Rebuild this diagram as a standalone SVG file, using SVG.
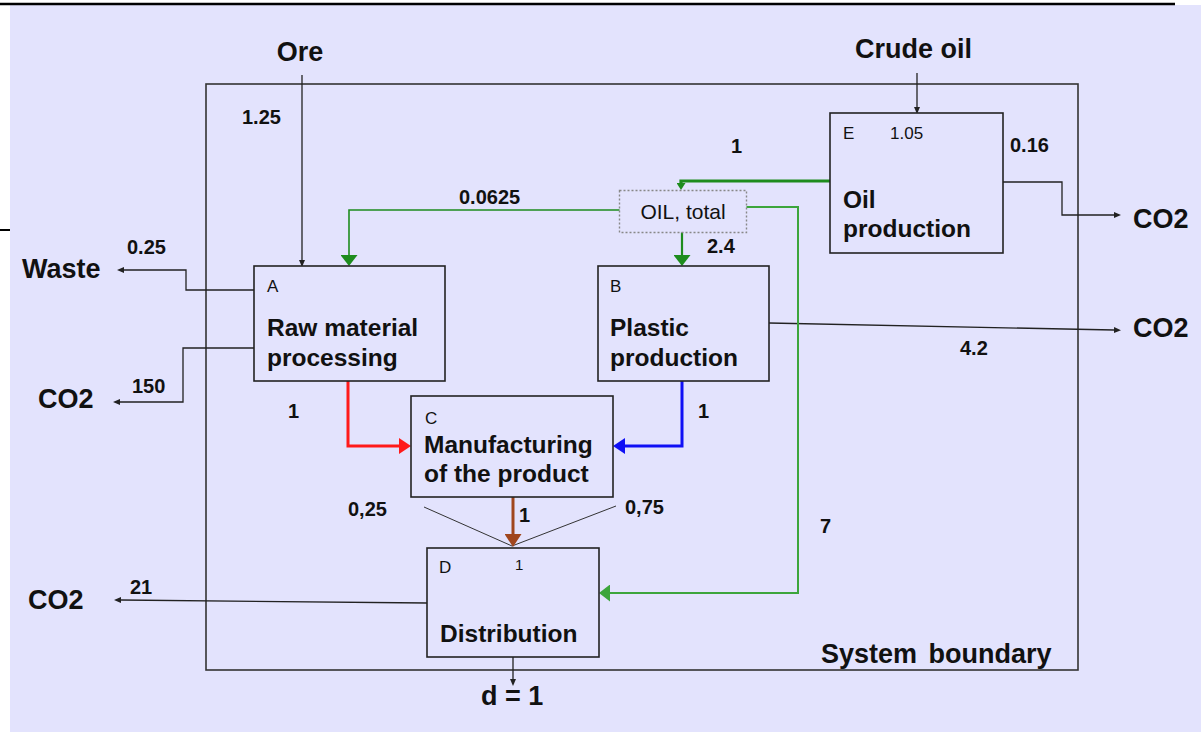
<svg xmlns="http://www.w3.org/2000/svg" width="1201" height="732" viewBox="0 0 1201 732">
<defs>
<style>
text{font-family:"Liberation Sans",Arial,sans-serif;fill:#111;}
.lbl{font-size:27px;font-weight:bold;}
.box{font-size:24.5px;font-weight:bold;}
.num{font-size:20px;font-weight:bold;}
.id{font-size:17px;}
.nd{fill:#E3E3FD;stroke:#222;stroke-width:1.6;}
.thin{fill:none;stroke:#222;stroke-width:1.3;}
</style>
<marker id="ab" markerUnits="userSpaceOnUse" markerWidth="7" markerHeight="6" refX="0" refY="3" orient="auto"><path d="M0,0 L7,3 L0,6 z" fill="#222"/></marker>
<marker id="ag" markerUnits="userSpaceOnUse" markerWidth="11" markerHeight="17" refX="0" refY="8.5" orient="auto"><path d="M0,0 L11,8.5 L0,17 z" fill="#1E8C1E"/></marker>
<marker id="ags" markerUnits="userSpaceOnUse" markerWidth="7" markerHeight="9" refX="0" refY="4.5" orient="auto"><path d="M0,0 L7,4.5 L0,9 z" fill="#1E8C1E"/></marker>
<marker id="agl" markerUnits="userSpaceOnUse" markerWidth="11" markerHeight="17" refX="0" refY="8.5" orient="auto"><path d="M0,0 L11,8.5 L0,17 z" fill="#3CA53C"/></marker>
<marker id="ar" markerUnits="userSpaceOnUse" markerWidth="12" markerHeight="16" refX="0" refY="8" orient="auto"><path d="M0,0 L12,8 L0,16 z" fill="#FF1A1A"/></marker>
<marker id="abl" markerUnits="userSpaceOnUse" markerWidth="12" markerHeight="16" refX="0" refY="8" orient="auto"><path d="M0,0 L12,8 L0,16 z" fill="#1010F5"/></marker>
<marker id="abr" markerUnits="userSpaceOnUse" markerWidth="13" markerHeight="17" refX="0" refY="8.5" orient="auto"><path d="M0,0 L13,8.5 L0,17 z" fill="#A0461E"/></marker>
</defs>

<rect x="0" y="0" width="1201" height="732" fill="#fff"/>
<rect x="10" y="5" width="1191" height="727" fill="#E3E3FD"/>
<line x1="0" y1="4" x2="1175" y2="4" stroke="#000" stroke-width="2.4"/>
<line x1="0" y1="230" x2="10" y2="230" stroke="#000" stroke-width="2"/>

<g id="boundary">
<rect x="206" y="84" width="872" height="586" fill="none" stroke="#333" stroke-width="1.6"/>
<text class="lbl" x="821" y="663" style="word-spacing:4px">System boundary</text>
</g>

<g id="connectors">
<path class="thin" d="M302,75 V260" marker-end="url(#ab)"/>
<path class="thin" d="M917,73 V107" marker-end="url(#ab)"/>
<path class="thin" d="M254,290 H186 V270 H124" marker-end="url(#ab)"/>
<path class="thin" d="M254,348 H183 V402 H120" marker-end="url(#ab)"/>
<path class="thin" d="M769,323 L1114,330" marker-end="url(#ab)"/>
<path class="thin" d="M1003,182 H1062 V215 H1114" marker-end="url(#ab)"/>
<path class="thin" d="M427,603 L121,600" marker-end="url(#ab)"/>
<path class="thin" d="M513,657 V679" marker-end="url(#ab)"/>
<path d="M424,507 L512,546 L616,506" fill="none" stroke="#333" stroke-width="1"/>
<path d="M513,497 V534" fill="none" stroke="#A0461E" stroke-width="3" marker-end="url(#abr)"/>
<path d="M348,381 V446 H399" fill="none" stroke="#FF1A1A" stroke-width="3" marker-end="url(#ar)"/>
<path d="M682,381 V446 H625" fill="none" stroke="#1010F5" stroke-width="3" marker-end="url(#abl)"/>
<path d="M830,181 H681 V183" fill="none" stroke="#1E8C1E" stroke-width="3.2" marker-end="url(#ags)"/>
<path d="M620,210 H349 V255" fill="none" stroke="#1E8C1E" stroke-width="1.6" marker-end="url(#ag)"/>
<path d="M682,232 V255" fill="none" stroke="#1E8C1E" stroke-width="2.2" marker-end="url(#ag)"/>
<path d="M740,207 H798 V593 H610" fill="none" stroke="#3CA53C" stroke-width="2" marker-end="url(#agl)"/>
</g>

<g id="oil-total">
<rect x="619.5" y="190.5" width="127" height="42" fill="#E3E3FD" stroke="#888" stroke-width="1.4" stroke-dasharray="2,2"/>
<text x="683" y="219" font-size="21" text-anchor="middle">OIL, total</text>
</g>

<g id="node-A">
<rect class="nd" x="254" y="266" width="191" height="115"/>
<text class="id" x="267" y="292">A</text>
<text class="box" x="267" y="336">Raw material</text>
<text class="box" x="267" y="366">processing</text>
</g>

<g id="node-B">
<rect class="nd" x="598" y="266" width="171" height="115"/>
<text class="id" x="610" y="292">B</text>
<text class="box" x="610" y="336">Plastic</text>
<text class="box" x="610" y="366">production</text>
</g>

<g id="node-C">
<rect class="nd" x="411" y="396" width="202" height="101"/>
<text class="id" x="425" y="424">C</text>
<text class="box" x="424" y="453">Manufacturing</text>
<text class="box" x="424" y="482">of the product</text>
</g>

<g id="node-D">
<rect class="nd" x="427" y="548" width="172" height="109"/>
<text class="id" x="439" y="573">D</text>
<text x="515" y="570" font-size="15">1</text>
<text class="box" x="440" y="642">Distribution</text>
</g>

<g id="node-E">
<rect class="nd" x="830" y="113" width="173" height="140"/>
<text class="id" x="843" y="139">E</text>
<text x="890" y="139" font-size="17">1.05</text>
<text class="box" x="843" y="208">Oil</text>
<text class="box" x="843" y="237">production</text>
</g>

<g id="labels">
<text class="lbl" x="300" y="61" text-anchor="middle">Ore</text>
<text class="lbl" x="855" y="58">Crude oil</text>
<text class="lbl" x="22" y="278">Waste</text>
<text class="lbl" x="38" y="408">CO2</text>
<text class="lbl" x="28" y="609">CO2</text>
<text class="lbl" x="1133" y="228">CO2</text>
<text class="lbl" x="1133" y="337">CO2</text>
<text class="lbl" x="481" y="705">d = 1</text>
<text class="num" x="242" y="124">1.25</text>
<text class="num" x="731" y="153">1</text>
<text class="num" x="1010" y="152">0.16</text>
<text class="num" x="459" y="204">0.0625</text>
<text class="num" x="707" y="253">2.4</text>
<text class="num" x="127" y="254">0.25</text>
<text class="num" x="132" y="393">150</text>
<text class="num" x="960" y="355">4.2</text>
<text class="num" x="288" y="418" font-size="23">1</text>
<text class="num" x="698" y="418" font-size="23">1</text>
<text class="num" x="348" y="516">0,25</text>
<text class="num" x="625" y="514">0,75</text>
<text class="num" x="519" y="522" font-size="25">1</text>
<text class="num" x="820" y="533">7</text>
<text class="num" x="130" y="594" font-size="17">21</text>
</g>
</svg>
